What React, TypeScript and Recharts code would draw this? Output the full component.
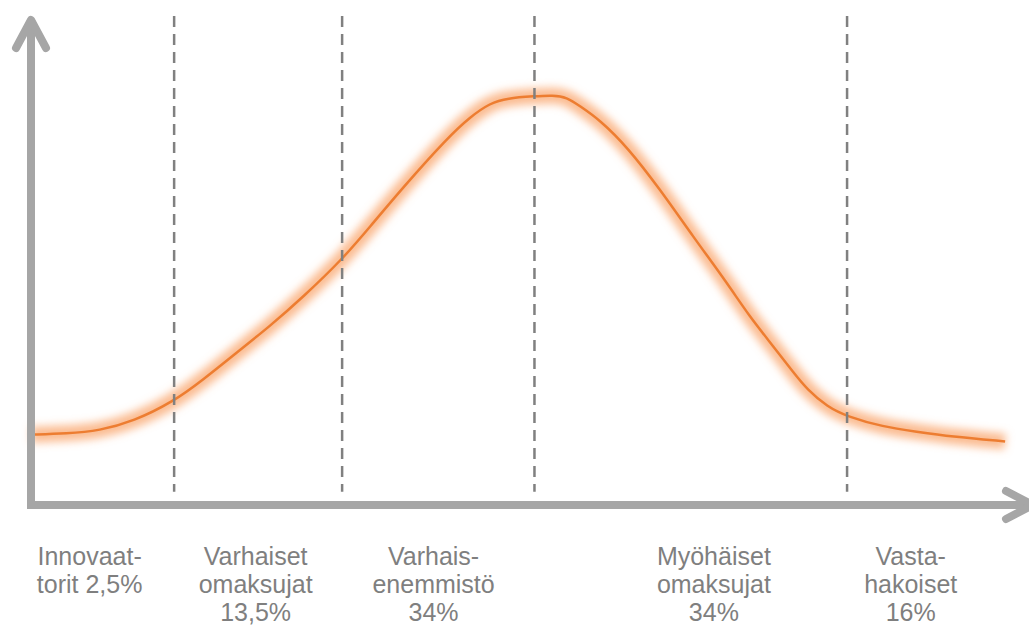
import React from 'react';
import { LineChart, Line, XAxis, YAxis, ReferenceLine } from 'recharts';

// adoption curve (x: time 0-100, y: share 0-100)
const adoptionTime = [
  0, 3.6, 6.9, 10.3, 14.3, 17.3, 20.7, 24.0, 27.4, 31.3, 34.1, 37.4, 41.9, 44.2,
  46.2, 47.9, 50.7, 52.5, 53.9, 55.2, 57.2, 60.0, 63.3, 66.6, 70.0, 72.3, 74.7,
  76.7, 78.1, 80.1, 82.1, 85.7, 89.1, 92.5, 98.0,
];
const adoptionShare = [
  14.4, 14.6, 15.2, 17.1, 21.1, 25.6, 31.2, 36.5, 42.6, 50.2, 56.9, 64.9, 75.1, 79.4,
  82.2, 83.2, 83.6, 83.8, 83.4, 81.6, 78.8, 73.2, 64.5, 54.9, 45.5, 38.5, 32.4,
  27.1, 23.6, 20.1, 18.1, 16.0, 15.0, 14.0, 13.0,
];

// group boundaries (dashed lines)
const boundaries = [14.4, 31.3, 50.65, 82.1];

// group labels and where they sit on the time axis
const groupLabels = [
  ['Innovaat-', 'torit 2,5%'],
  ['Varhaiset', 'omaksujat', '13,5%'],
  ['Varhais-', 'enemmistö', '34%'],
  ['Myöhäiset', 'omaksujat', '34%'],
  ['Vasta-', 'hakoiset', '16%'],
];
const labelPositions = [5.9, 22.6, 40.5, 68.7, 88.5];

const data = adoptionTime.map((x, i) => ({ x, share: adoptionShare[i], glow: adoptionShare[i] }));

const AXIS_COLOR = '#a6a6a6';
const FONT = "'Liberation Sans', Arial, sans-serif";

const GroupTick = (props: any) => {
  const { x, y, index } = props;
  const lines = groupLabels[index] || [];
  return (
    <g>
      {lines.map((t, i) => (
        <text
          key={i}
          x={x}
          y={y + 60 + i * 28}
          textAnchor="middle"
          fill="#7f7f7f"
          fontSize={25}
          fontFamily={FONT}
        >
          {t}
        </text>
      ))}
    </g>
  );
};

const XArrow = (props: any) => {
  const { x1, y1, x2 } = props;
  const tip = x2 + 8;
  return (
    <g fill="none" stroke={AXIS_COLOR} strokeWidth={8} strokeLinecap="round" strokeLinejoin="round">
      <line x1={x1 - 4} y1={y1} x2={tip} y2={y1} strokeLinecap="butt" />
      <polyline points={`${tip - 27},${y1 - 14} ${tip},${y1} ${tip - 27},${y1 + 14}`} />
    </g>
  );
};

const YArrow = (props: any) => {
  const { x1, y1, y2 } = props;
  const top = Math.min(y1, y2) + 4;
  const bottom = Math.max(y1, y2) + 4;
  return (
    <g fill="none" stroke={AXIS_COLOR} strokeWidth={8} strokeLinecap="round" strokeLinejoin="round">
      <line x1={x1} y1={bottom} x2={x1} y2={top} strokeLinecap="butt" />
      <polyline points={`${x1 - 15},${top + 28} ${x1},${top} ${x1 + 15},${top + 28}`} />
    </g>
  );
};

const App = () => {
  return (
    <div style={{ position: 'absolute', left: 0, top: 0, background: '#fff' }}>
      <LineChart width={1029} height={626} data={data} margin={{ top: 16, right: 4, bottom: 0, left: 31 }}>
        <defs>
          <filter id="curveGlow" x="-10%" y="-20%" width="120%" height="140%">
            <feGaussianBlur stdDeviation="4" />
          </filter>
        </defs>
        <XAxis
          type="number"
          dataKey="x"
          domain={[0, 100]}
          ticks={labelPositions}
          interval={0}
          axisLine={false}
          tickLine={false}
          tickSize={0}
          tickMargin={0}
          height={121}
          tick={<GroupTick />}
        />
        <YAxis type="number" domain={[0, 100]} hide />
        <Line
          type="basis"
          dataKey="glow"
          stroke="#f9a66c"
          strokeWidth={16}
          strokeOpacity={0.75}
          dot={false}
          activeDot={false}
          filter="url(#curveGlow)"
          isAnimationActive={false}
        />
        <Line
          type="basis"
          dataKey="share"
          stroke="#ed7d31"
          strokeWidth={2.5}
          dot={false}
          activeDot={false}
          isAnimationActive={false}
        />
        {boundaries.map((b) => (
          <ReferenceLine
            key={b}
            segment={[{ x: b, y: 100 }, { x: b, y: 2.7 }]}
            ifOverflow="visible"
            stroke="#808080"
            strokeWidth={2.5}
            strokeDasharray="11 7"
          />
        ))}
        <ReferenceLine segment={[{ x: 0, y: 0 }, { x: 100, y: 0 }]} ifOverflow="visible" shape={<XArrow />} />
        <ReferenceLine segment={[{ x: 0, y: 0 }, { x: 0, y: 100 }]} ifOverflow="visible" shape={<YArrow />} />
      </LineChart>
    </div>
  );
};

export default App;
